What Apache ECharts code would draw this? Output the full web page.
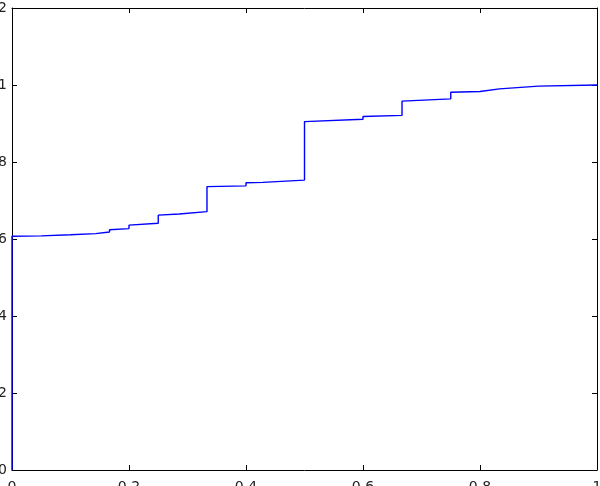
<!DOCTYPE html>
<html>
<head>
<meta charset="utf-8">
<script src="https://cdn.jsdelivr.net/npm/echarts@6/dist/echarts.min.js"></script>
<style>
html,body{margin:0;padding:0;background:#fff;}
#chart{width:600px;height:486px;}
</style>
</head>
<body>
<div id="chart"></div>
<script>
// Data (x, y pairs; repeated x marks a jump)
var xs = [0, 0, 0.05, 0.1, 0.1429, 0.1429, 0.1667, 0.1667, 0.2, 0.2, 0.25, 0.25, 0.2857, 0.2857, 0.3333, 0.3333, 0.4, 0.4, 0.4286, 0.4286, 0.5, 0.5, 0.6, 0.6, 0.6667, 0.6667, 0.75, 0.75, 0.8, 0.8, 0.8333, 0.8333, 0.9, 1];
var ys = [0, 0.607, 0.608, 0.611, 0.614, 0.617, 0.618, 0.624, 0.627, 0.636, 0.641, 0.662, 0.665, 0.669, 0.671, 0.736, 0.738, 0.746, 0.747, 0.751, 0.753, 0.905, 0.911, 0.918, 0.921, 0.958, 0.964, 0.981, 0.983, 0.987, 0.990, 0.993, 0.997, 1.0];
var xTicks = {min: 0, max: 1, interval: 0.2};
var yTicks = {min: 0, max: 1.2, interval: 0.2};

var data = xs.map(function (x, i) { return [x, ys[i]]; });
var chart = echarts.init(document.getElementById('chart'), null, {renderer: 'canvas'});
var font = {color: '#222', fontFamily: 'DejaVu Sans', fontSize: 14};
var lineStyle = {show: true, onZero: false, lineStyle: {color: '#000', width: 1}};
var tickIn = {show: true, inside: true, length: 5, lineStyle: {color: '#000', width: 1}};
chart.setOption({
  animation: false,
  backgroundColor: '#fff',
  grid: {left: 12, right: 3, top: 8, bottom: 16, containLabel: false, outerBoundsMode: 'none'},
  xAxis: [
    {type: 'value', min: xTicks.min, max: xTicks.max, interval: xTicks.interval, position: 'bottom',
     axisLine: lineStyle, axisTick: tickIn, splitLine: {show: false},
     axisLabel: Object.assign({margin: 10, showMinLabel: true, showMaxLabel: true}, font)},
    {type: 'value', min: xTicks.min, max: xTicks.max, interval: xTicks.interval, position: 'top',
     axisLine: lineStyle, axisTick: tickIn, splitLine: {show: false}, axisLabel: {show: false}}
  ],
  yAxis: [
    {type: 'value', min: yTicks.min, max: yTicks.max, interval: yTicks.interval, position: 'left',
     axisLine: lineStyle, axisTick: tickIn, splitLine: {show: false},
     axisLabel: Object.assign({margin: 5, showMinLabel: true, showMaxLabel: true}, font)},
    {type: 'value', min: yTicks.min, max: yTicks.max, interval: yTicks.interval, position: 'right',
     axisLine: lineStyle, axisTick: tickIn, splitLine: {show: false}, axisLabel: {show: false}}
  ],
  series: [{
    type: 'line', data: data, xAxisIndex: 0, yAxisIndex: 0,
    showSymbol: false, smooth: false, clip: false,
    lineStyle: {color: '#0000ff', width: 1.4}
  }]
});
</script>
</body>
</html>
